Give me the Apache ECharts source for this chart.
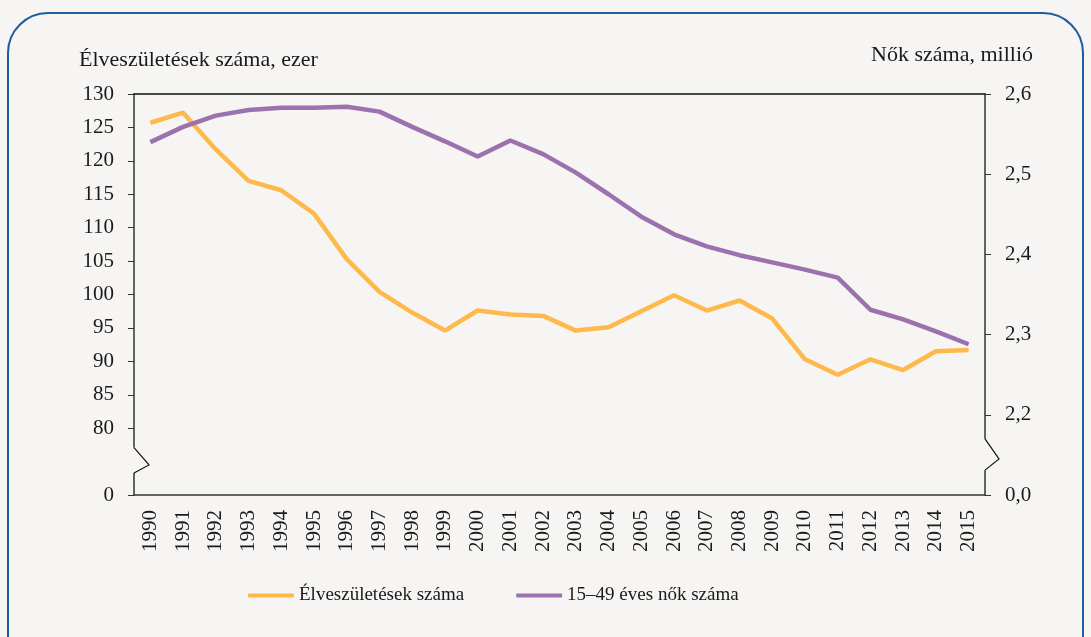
<!DOCTYPE html>
<html>
<head>
<meta charset="utf-8">
<script src="https://cdn.jsdelivr.net/npm/echarts@6/dist/echarts.min.js"></script>
<style>
  html, body { margin: 0; padding: 0; background: #f6f5f3; }
  #chart { width: 1091px; height: 637px; }
</style>
</head>
<body>
<div id="chart"></div>
<script>
const years = ['1990', '1991', '1992', '1993', '1994', '1995', '1996', '1997', '1998', '1999',
    '2000', '2001', '2002', '2003', '2004', '2005', '2006', '2007', '2008', '2009',
    '2010', '2011', '2012', '2013', '2014', '2015']
// live births, thousand
const births = [125.7, 127.2, 121.7, 117.0, 115.6, 112.1, 105.3, 100.4, 97.3, 94.6,
    97.6, 97.0, 96.8, 94.6, 95.1, 97.5, 99.9, 97.6, 99.1, 96.4,
    90.3, 88.0, 90.3, 88.7, 91.5, 91.7]
// women aged 15-49, million
const women = [2.540, 2.559, 2.573, 2.580, 2.583, 2.583, 2.584, 2.578, 2.559, 2.541,
    2.522, 2.542, 2.525, 2.502, 2.475, 2.447, 2.425, 2.410, 2.399, 2.390,
    2.381, 2.371, 2.331, 2.319, 2.304, 2.288]
// tick values (lowest one is shown as zero because of the axis break)
const leftTicks = [70, 80, 85, 90, 95, 100, 105, 110, 115, 120, 125, 130]
const rightTicks = [2.1, 2.2, 2.3, 2.4, 2.5, 2.6]

const FONT = 'Liberation Serif'
const TXT = '#1a1a1a'
const AXIS = '#333'
const G = { left: 134, right: 106, top: 94, bottom: 142 }

const chart = echarts.init(document.getElementById('chart'))

const option = {
    backgroundColor: '#f6f5f3',
    textStyle: { fontFamily: FONT },
    animation: false,
    grid: G,
    legend: {
        left: 248,
        top: 586,
        padding: 0,
        icon: 'roundRect',
        itemWidth: 46,
        itemHeight: 4,
        itemGap: 52,
        textStyle: { fontFamily: FONT, fontSize: 19, color: TXT },
        data: ['Élveszületések száma', '15–49 éves nők száma']
    },
    xAxis: [
        {
            type: 'category',
            data: years,
            boundaryGap: true,
            axisLine: { lineStyle: { color: AXIS, width: 1.5 } },
            axisTick: { length: 6, inside: false, lineStyle: { color: AXIS } },
            axisLabel: { rotate: 90, margin: 15, fontSize: 21, color: TXT, fontFamily: FONT, interval: 0 }
        },
        {
            type: 'category',
            data: years,
            position: 'top',
            axisLine: { lineStyle: { color: '#111', width: 1.5 } },
            axisTick: { show: false },
            axisLabel: { show: false }
        }
    ],
    yAxis: [
        {
            type: 'value',
            min: 70,
            max: 130,
            interval: 5,
            splitLine: { show: false },
            axisLine: { show: true, lineStyle: { color: AXIS, width: 1.5 } },
            axisTick: { show: true, length: 6, customValues: leftTicks, lineStyle: { color: AXIS } },
            axisLabel: {
                margin: 20, fontSize: 21, color: TXT, fontFamily: FONT,
                customValues: leftTicks,
                formatter: v => (v === 70 ? '0' : String(v))
            }
        },
        {
            type: 'value',
            min: 2.1,
            max: 2.6,
            interval: 0.1,
            position: 'right',
            splitLine: { show: false },
            axisLine: { show: true, lineStyle: { color: AXIS, width: 1.5 } },
            axisTick: { show: true, length: 6, customValues: rightTicks, lineStyle: { color: AXIS } },
            axisLabel: {
                margin: 20, fontSize: 21, color: TXT, fontFamily: FONT,
                customValues: rightTicks,
                formatter: v => (Math.abs(v - 2.1) < 1e-6 ? '0,0' : v.toFixed(1).replace('.', ','))
            }
        }
    ],
    series: [
        {
            name: 'Élveszületések száma',
            type: 'line',
            yAxisIndex: 0,
            data: births,
            symbol: 'none',
            lineStyle: { color: '#fdb94b', width: 4.5 },
            itemStyle: { color: '#fdb94b' }
        },
        {
            name: '15–49 éves nők száma',
            type: 'line',
            yAxisIndex: 1,
            data: women,
            symbol: 'none',
            lineStyle: { color: '#9b72ad', width: 4.5 },
            itemStyle: { color: '#9b72ad' }
        }
    ]
}
chart.setOption(option)

// axis break marks, titles and frame, placed from the axis scales
function drawDecor() {
    const xl = G.left
    const xr = 1091 - G.right
    const yl = v => chart.convertToPixel({ yAxisIndex: 0 }, v)
    const yr = v => chart.convertToPixel({ yAxisIndex: 1 }, v)
    const bg = '#f6f5f3'
    chart.setOption({
        graphic: [
            {
                type: 'rect', z: -10, silent: true,
                shape: { x: 8, y: 13, width: 1075, height: 700, r: 40 },
                style: { fill: bg, stroke: '#1d5e9f', lineWidth: 2 }
            },
            {
                type: 'rect', z: 100, silent: true,
                shape: { x: xl - 3, y: yl(77.1), width: 6, height: yl(73.3) - yl(77.1) },
                style: { fill: bg }
            },
            {
                type: 'polyline', z: 101, silent: true,
                shape: { points: [[xl, yl(77.1)], [xl + 15, yl(74.5)], [xl, yl(73.3)]] },
                style: { stroke: '#111', lineWidth: 1.2, fill: null }
            },
            {
                type: 'rect', z: 100, silent: true,
                shape: { x: xr - 3, y: yr(2.17), width: 6, height: yr(2.131) - yr(2.17) },
                style: { fill: bg }
            },
            {
                type: 'polyline', z: 101, silent: true,
                shape: { points: [[xr, yr(2.17)], [xr + 14, yr(2.145)], [xr, yr(2.131)]] },
                style: { stroke: '#111', lineWidth: 1.2, fill: null }
            },
            {
                type: 'text', z: 101, silent: true,
                left: 79, top: 49,
                style: { text: 'Élveszületések száma, ezer', font: '22px "Liberation Serif"', fill: TXT }
            },
            {
                type: 'text', z: 101, silent: true,
                right: 58, top: 44,
                style: { text: 'Nők száma, millió', font: '22px "Liberation Serif"', fill: TXT }
            }
        ]
    })
}
drawDecor()

window.addEventListener('resize', () => chart.resize())
</script>
</body>
</html>
